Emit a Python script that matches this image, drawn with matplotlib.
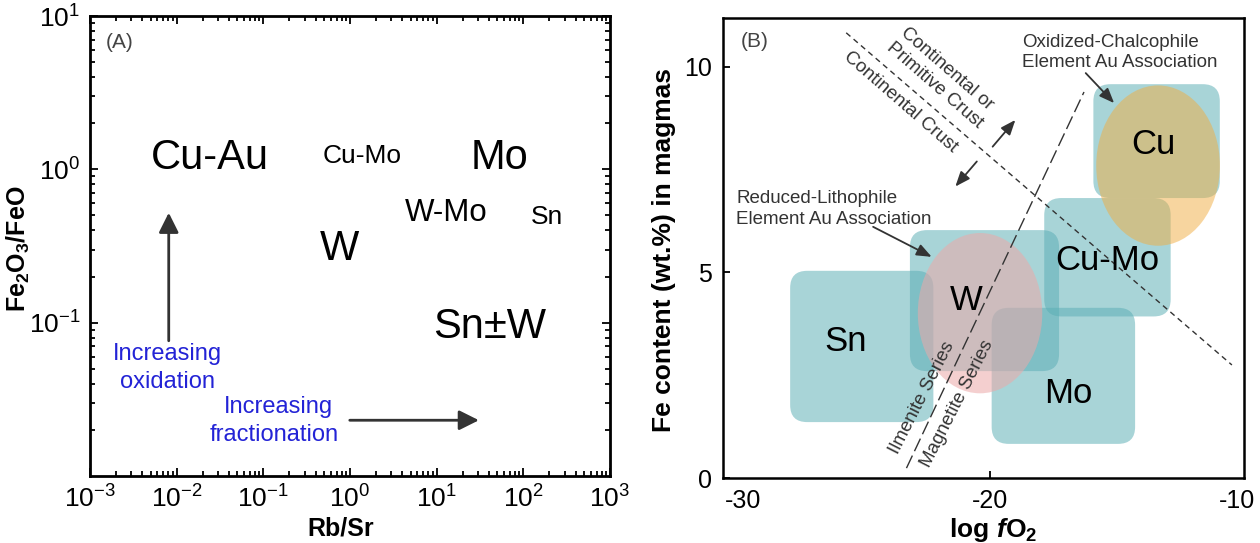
import matplotlib
matplotlib.use('Agg')
import matplotlib.pyplot as plt
from matplotlib.patches import FancyBboxPatch, Ellipse
from matplotlib.ticker import FixedLocator, NullFormatter

plt.rcParams['font.family'] = ['Liberation Sans', 'DejaVu Sans']
plt.rcParams['mathtext.fontset'] = 'custom'
plt.rcParams['mathtext.rm'] = 'Liberation Sans'
plt.rcParams['mathtext.bf'] = 'Liberation Sans:bold'
plt.rcParams['mathtext.it'] = 'Liberation Sans:italic:bold'

# ---------------- Panel A data ----------------
a_labels = ['Cu-Au', 'Cu-Mo', 'Mo', 'W-Mo', 'Sn', 'W', 'Sn±W']
a_label_x = [0.0243, 1.39, 53.2, 12.9, 185, 0.762, 40.5]
a_label_y = [1.0, 1.107, 1.0, 0.457, 0.44, 0.258, 0.080]
a_label_size = [30, 19, 30, 22.5, 19, 30, 30]
a_xlim = [1e-3, 1e3]
a_ylim = [1e-2, 1e1]
a_xticks = [1e-3, 1e-2, 1e-1, 1e0, 1e1, 1e2, 1e3]
a_xticklabels = [r'$10^{-3}$', r'$10^{-2}$', r'$10^{-1}$', r'$10^{0}$',
                 r'$10^{1}$', r'$10^{2}$', r'$10^{3}$']
a_yticks = [1e-1, 1e0, 1e1]
a_yticklabels = [r'$10^{-1}$', r'$10^{0}$', r'$10^{1}$']
a_ox_arrow = [(0.0081, 0.0762), (0.0081, 0.521)]
a_fr_arrow = [(0.994, 0.0231), (30.7, 0.0231)]
a_blue_text = ['Increasing', 'oxidation', 'Increasing', 'fractionation']
a_blue_x = [0.00789, 0.00789, 0.1476, 0.1327]
a_blue_y = [0.0571, 0.0375, 0.0256, 0.0169]

# ---------------- Panel B data ----------------
b_xlim = [-30.8, -9.7]
b_ylim = [0, 11.19]
b_xticks = [-30, -20, -10]
b_yticks = [0, 5, 10]
b_box_names = ['Sn', 'W', 'Cu-Mo', 'Mo', 'Cu']
b_box_x0 = [-28.08, -23.23, -17.79, -19.92, -15.80]
b_box_x1 = [-22.28, -17.19, -12.67, -14.11, -10.68]
b_box_y0 = [1.36, 2.60, 3.93, 0.83, 6.81]
b_box_y1 = [5.04, 6.03, 6.81, 4.14, 9.58]
b_ell_names = ['Cu', 'W']
b_ell_cx = [-13.18, -20.39]
b_ell_cy = [7.60, 4.01]
b_ell_w = [5.01, 5.04]
b_ell_h = [3.90, 3.90]
b_crust_line = [(-25.81, 10.83), (-10.19, 2.75)]
b_series_line = [(-23.37, 0.24), (-16.18, 9.39)]
b_big_labels = ['Cu', 'Cu-Mo', 'W', 'Sn', 'Mo']
b_big_x = [-13.37, -15.25, -20.96, -25.85, -16.80]
b_big_y = [7.88, 5.06, 4.09, 3.09, 1.82]

teal = (91/255, 174/255, 181/255)
dark = '#333333'
blue = '#2323d6'

fig = plt.figure(figsize=(12.6, 5.43), dpi=100)
W, H = 1260, 543

# ================= Panel A =================
axA = fig.add_axes([90/W, 1-476/H, 520/W, 460/H])
axA.set_xscale('log')
axA.set_yscale('log')
axA.set_xlim(a_xlim)
axA.set_ylim(a_ylim)
axA.xaxis.set_major_locator(FixedLocator(a_xticks))
axA.set_xticklabels(a_xticklabels)
axA.yaxis.set_major_locator(FixedLocator(a_yticks))
axA.set_yticklabels(a_yticklabels)
minx = [m * 10.0**k for k in range(-3, 3) for m in range(2, 10)]
miny = [m * 10.0**k for k in range(-2, 1) for m in range(2, 10)]
axA.xaxis.set_minor_locator(FixedLocator(minx))
axA.yaxis.set_minor_locator(FixedLocator(miny))
axA.xaxis.set_minor_formatter(NullFormatter())
axA.yaxis.set_minor_formatter(NullFormatter())
axA.tick_params(which='both', direction='in', top=True, right=True, width=1.3, colors='black')
axA.tick_params(which='major', length=6)
axA.tick_params(which='minor', length=3.5)
axA.tick_params(axis='x', which='major', labelsize=19, pad=7)
axA.tick_params(axis='y', which='major', labelsize=19, pad=7)
for s in axA.spines.values():
    s.set_linewidth(2.0)

for lab, x, y, fs in zip(a_labels, a_label_x, a_label_y, a_label_size):
    axA.text(x, y, lab, fontsize=fs, ha='center', va='baseline', color='black')
for t, x, y in zip(a_blue_text, a_blue_x, a_blue_y):
    axA.text(x, y, t, fontsize=17, ha='center', va='baseline', color=blue)
for arr in (a_ox_arrow, a_fr_arrow):
    axA.annotate('', xy=arr[1], xytext=arr[0],
                 arrowprops=dict(arrowstyle='-|>,head_length=0.6,head_width=0.3',
                                 color=dark, lw=2, mutation_scale=20,
                                 shrinkA=0, shrinkB=0))
axA.text(0.00222, 6.17, '(A)', fontsize=15, ha='center', va='baseline', color='#444444')

fig.text(18/W, 1-249/H, r'$\mathbf{Fe_2O_3/FeO}$', rotation=90, fontsize=18,
         ha='center', va='center')
fig.text(341/W, 1-536/H, 'Rb/Sr', fontsize=18, fontweight='bold',
         ha='center', va='baseline')

# ================= Panel B =================
axB = fig.add_axes([723/W, 1-478/H, 521/W, 460/H])
axB.set_xlim(b_xlim)
axB.set_ylim(b_ylim)
axB.set_xticks(b_xticks)
axB.set_yticks(b_yticks)
axB.set_xticklabels([str(v) for v in b_xticks])
axB.set_yticklabels([str(v) for v in b_yticks])
axB.tick_params(direction='in', length=5, width=1.3, labelsize=18)
axB.tick_params(axis='x', pad=8)
axB.tick_params(axis='y', pad=8)
xt = axB.xaxis.get_major_ticks()
xt[0].tick1line.set_visible(False)
xt[-1].tick1line.set_visible(False)
for s in axB.spines.values():
    s.set_linewidth(1.8)

# rounded boxes: pixel radius converted to data units
px_per_x = 521 / (b_xlim[1] - b_xlim[0])
px_per_y = 460 / (b_ylim[1] - b_ylim[0])
r_px = 17
r_x = r_px / px_per_x
aspect = px_per_x / px_per_y
for x0, x1, y0, y1 in zip(b_box_x0, b_box_x1, b_box_y0, b_box_y1):
    p = FancyBboxPatch((x0, y0), x1 - x0, y1 - y0,
                       boxstyle=f'round,pad=0,rounding_size={r_x}',
                       mutation_aspect=aspect, facecolor=teal, alpha=0.53,
                       edgecolor='none', zorder=1)
    axB.add_patch(p)

ell_colors = [(241/255, 173/255, 65/255), (236/255, 169/255, 169/255)]
ell_alpha = [0.5, 0.55]
for cx, cy, w, h, c, a in zip(b_ell_cx, b_ell_cy, b_ell_w, b_ell_h, ell_colors, ell_alpha):
    axB.add_patch(Ellipse((cx, cy), w, h, facecolor=c, alpha=a, edgecolor='none', zorder=2))

l1, = axB.plot([b_crust_line[0][0], b_crust_line[1][0]],
               [b_crust_line[0][1], b_crust_line[1][1]],
               color=dark, lw=1.0, zorder=3)
l1.set_dashes([4, 3])
l2, = axB.plot([b_series_line[0][0], b_series_line[1][0]],
               [b_series_line[0][1], b_series_line[1][1]],
               color=dark, lw=1.0, zorder=3)
l2.set_dashes([10, 3.5])

arrow_kw = dict(arrowstyle='-|>,head_length=0.45,head_width=0.18', color=dark,
                lw=1.3, mutation_scale=20, shrinkA=0, shrinkB=0)
axB.annotate('', xy=(-18.96, 8.71), xytext=(-19.88, 8.06), arrowprops=arrow_kw, zorder=4)
axB.annotate('', xy=(-21.39, 7.09), xytext=(-20.52, 7.70), arrowprops=arrow_kw, zorder=4)
axB.annotate('', xy=(-14.96, 9.12), xytext=(-16.11, 9.85), arrowprops=arrow_kw, zorder=4)
axB.annotate('', xy=(-22.35, 5.38), xytext=(-24.72, 6.11), arrowprops=arrow_kw, zorder=4)

small = 13.5
axB.text(-18.68, 10.49, 'Oxidized-Chalcophile', fontsize=small, color=dark, ha='left', va='baseline', zorder=5)
axB.text(-18.68, 9.99, 'Element Au Association', fontsize=small, color=dark, ha='left', va='baseline', zorder=5)
axB.text(-30.26, 6.68, 'Reduced-Lithophile', fontsize=small, color=dark, ha='left', va='baseline', zorder=5)
axB.text(-30.26, 6.17, 'Element Au Association', fontsize=small, color=dark, ha='left', va='baseline', zorder=5)

rot_kw = dict(fontsize=small, color=dark, ha='center', va='center', rotation_mode='anchor', zorder=5)
axB.text(-21.74, 9.95, 'Continental or', rotation=-41, **rot_kw)
axB.text(-22.21, 9.55, 'Primitive Crust', rotation=-41, **rot_kw)
axB.text(-23.61, 9.14, 'Continental Crust', rotation=-41, **rot_kw)
axB.text(-22.75, 1.96, 'Ilmenite Series', rotation=63, **rot_kw)
axB.text(-21.33, 1.82, 'Magnetite Series', rotation=63, **rot_kw)

for lab, x, y in zip(b_big_labels, b_big_x, b_big_y):
    axB.text(x, y, lab, fontsize=25, ha='center', va='baseline', color='black', zorder=6)

axB.text(-29.52, 10.49, '(B)', fontsize=15, ha='center', va='baseline', color='#444444')

fig.text(664/W, 1-250/H, 'Fe content (wt.%) in magmas', rotation=90,
         fontsize=19, fontweight='bold', ha='center', va='center')
fig.text(993/W, 1-537/H, r'$\mathbf{log}\ \mathit{f}\mathbf{O_2}$', fontsize=19,
         ha='center', va='baseline')

fig.savefig('out.png', dpi=100)
